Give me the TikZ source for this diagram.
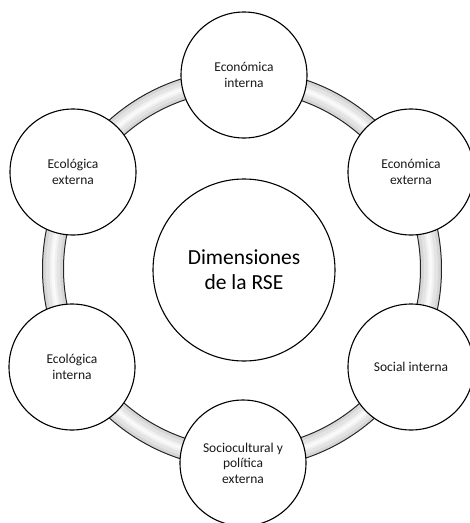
\documentclass[tikz,border=0pt]{standalone}
\usepackage{fontspec}
\setmainfont{Carlito}
\begin{document}
\begin{tikzpicture}[x=1pt,y=-1pt,
  sat/.style={circle,draw=black,line width=1.1pt,fill=white,minimum size=126pt,inner sep=0pt,
    align=center,font=\fontsize{13.5}{15.5}\selectfont,text=black!90},
  hub/.style={circle,draw=black,line width=1.1pt,fill=white,minimum size=182pt,inner sep=0pt,
    align=center,font=\fontsize{21.5}{25}\selectfont,text=black}]
\useasboundingbox (0,0) rectangle (470,523);
\clip (0,0) rectangle (470,523);
\coordinate (c) at (242,269);
% ring band
\draw[line width=21pt,gray!32] (c) circle[radius=189pt];
\draw[line width=14pt,gray!22] (c) circle[radius=189pt];
\draw[line width=7pt,gray!12] (c) circle[radius=189pt];
\draw[line width=3pt,gray!5] (c) circle[radius=189pt];
\draw[line width=1pt,black!85] (c) circle[radius=199.5pt];
\draw[line width=1pt,black!85] (c) circle[radius=178.5pt];
% hub
\node[hub] (hub) at (244,270) {Dimensiones\\de la RSE};
% satellites
\node[sat] (ei) at (244,75) {Económica\\interna};
\node[sat] (ee) at (411,172) {Económica\\externa};
\node[sat] (si) at (411,367) {Social interna};
\node[sat] (sp) at (243,463) {Sociocultural y\\política\\externa};
\node[sat] (gi) at (72,367) {Ecológica\\interna};
\node[sat] (ge) at (73,172) {Ecológica\\externa};
\end{tikzpicture}
\end{document}
